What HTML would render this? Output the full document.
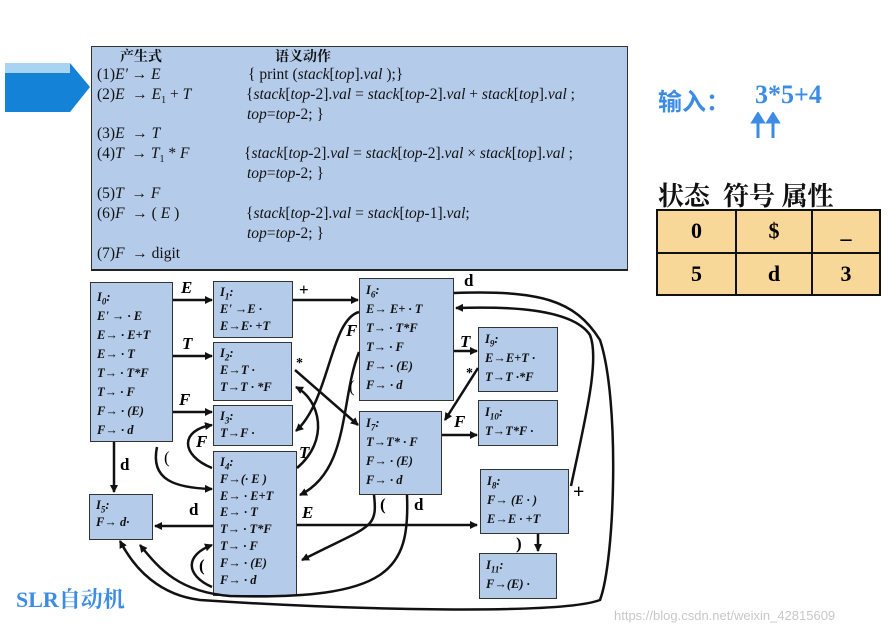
<!DOCTYPE html>
<html><head><meta charset="utf-8"><style>
body{margin:0;width:896px;height:635px;background:#fff;position:relative;overflow:hidden;font-family:"Liberation Serif","Noto Serif CJK SC",serif;}
.a{position:absolute;}
sub{line-height:0;}
.bx{position:absolute;background:#b4cbea;border:1.5px solid #333;box-sizing:border-box;font:bold italic 12.5px/19px "Liberation Serif",serif;padding:2px 6px;color:#111;white-space:nowrap;overflow:hidden;}
.pr{position:absolute;font:15.5px/20px "Liberation Serif","Noto Serif CJK SC",serif;color:#111;white-space:nowrap;}
.lb{position:absolute;font:bold italic 17px "Liberation Serif",serif;}
.lbn{position:absolute;font:bold 17px "Liberation Serif",serif;}
td{border:2px solid #111;text-align:center;font:bold 22px "Liberation Serif",serif;background:#f8d898;}
</style></head><body>
<svg class="a" style="left:0;top:0" width="100" height="120">
<polygon points="5,63 70,63 90,87 70,112 5,112" fill="#1482d6"/>
<rect x="5" y="63" width="65" height="10" fill="#a9d3f2"/>
</svg>
<div class="a" style="left:91px;top:46px;width:537px;height:224px;background:#b4cbea;border:1.5px solid #333;box-sizing:border-box"></div>
<div class="pr" style="left:120px;top:50px;font-weight:bold;font-size:14px;line-height:16px">产生式</div>
<div class="pr" style="left:275px;top:50px;font-weight:bold;font-size:14px;line-height:16px">语义动作</div>
<div class="pr" style="left:97px;top:65px">(1)<i>E'</i> → <i>E</i></div>
<div class="pr" style="left:248px;top:65px">{ print (<i>stack</i>[<i>top</i>].<i>val</i> );}</div>
<div class="pr" style="left:97px;top:85px">(2)<i>E</i> &nbsp;→ <i>E</i><sub style="font-size:10px">1</sub> + <i>T</i></div>
<div class="pr" style="left:246px;top:85px">{<i>stack</i>[<i>top</i>-2].<i>val</i> = <i>stack</i>[<i>top</i>-2].<i>val</i> + <i>stack</i>[<i>top</i>].<i>val</i> ;</div>
<div class="pr" style="left:247px;top:105px"><i>top</i>=<i>top</i>-2; }</div>
<div class="pr" style="left:97px;top:124px">(3)<i>E</i> &nbsp;→ <i>T</i></div>
<div class="pr" style="left:97px;top:144px">(4)<i>T</i> &nbsp;→ <i>T</i><sub style="font-size:10px">1</sub> * <i>F</i></div>
<div class="pr" style="left:244px;top:144px">{<i>stack</i>[<i>top</i>-2].<i>val</i> = <i>stack</i>[<i>top</i>-2].<i>val</i> × <i>stack</i>[<i>top</i>].<i>val</i> ;</div>
<div class="pr" style="left:247px;top:164px"><i>top</i>=<i>top</i>-2; }</div>
<div class="pr" style="left:97px;top:184px">(5)<i>T</i> &nbsp;→ <i>F</i></div>
<div class="pr" style="left:97px;top:204px">(6)<i>F</i> &nbsp;→ ( <i>E</i> )</div>
<div class="pr" style="left:246px;top:204px">{<i>stack</i>[<i>top</i>-2].<i>val</i> = <i>stack</i>[<i>top</i>-1].<i>val</i>;</div>
<div class="pr" style="left:247px;top:224px"><i>top</i>=<i>top</i>-2; }</div>
<div class="pr" style="left:97px;top:244px">(7)<i>F</i> &nbsp;→ digit</div>

<div class="a" style="left:658px;top:82px;color:#3c8ce6;font:bold 24px 'Liberation Sans','Noto Sans CJK SC',sans-serif">输入：</div>
<div class="a" style="left:755px;top:80px;color:#3c8ce6;font:bold 26px 'Liberation Serif',serif">3*5+4</div>
<svg class="a" style="left:750px;top:112px" width="40" height="28"><g stroke="#3c8ce6" stroke-width="3" fill="#3c8ce6"><line x1="8" y1="26" x2="8" y2="8"/><line x1="23" y1="26" x2="23" y2="8"/><polygon points="3,10 8,2 13,10"/><polygon points="18,10 23,2 28,10"/></g></svg>
<div class="a" style="left:658px;top:180px;font:bold 26px 'Noto Serif CJK SC',serif;line-height:30px;color:#111;white-space:nowrap">状态 &nbsp;符号 属性</div>
<table class="a" style="left:656px;top:209px;border-collapse:collapse;width:225px;height:87px"><tr><td style="width:75px">0</td><td style="width:72px">$</td><td>_</td></tr><tr><td>5</td><td>d</td><td>3</td></tr></table>

<div class="a" style="left:91px;top:269px;width:537px;height:2px;background:#222"></div>

<div class="bx" style="left:90px;top:282px;width:83px;height:160px;padding-top:5px">I<sub style="font-size:9px">0</sub>:<br>E' → · E<br>E→ · E+T<br>E→ · T<br>T→ · T*F<br>T→ · F<br>F→ · (E)<br>F→ · d</div>
<div class="bx" style="left:213px;top:281px;width:80px;height:57px;line-height:17px">I<sub style="font-size:9px">1</sub>:<br>E' →E ·<br>E→E· +T</div>
<div class="bx" style="left:213px;top:342px;width:79px;height:59px;line-height:17px">I<sub style="font-size:9px">2</sub>:<br>E→T ·<br>T→T · *F</div>
<div class="bx" style="left:213px;top:405px;width:80px;height:41px;line-height:17px">I<sub style="font-size:9px">3</sub>:<br>T→F ·</div>
<div class="bx" style="left:213px;top:451px;width:84px;height:145px;line-height:16.8px">I<sub style="font-size:9px">4</sub>:<br>F→(· E )<br>E→ · E+T<br>E→ · T<br>T→ · T*F<br>T→ · F<br>F→ · (E)<br>F→ · d</div>
<div class="bx" style="left:89px;top:494px;width:64px;height:46px;line-height:17px">I<sub style="font-size:9px">5</sub>:<br>F→ d·</div>
<div class="bx" style="left:359px;top:278px;width:95px;height:123px">I<sub style="font-size:9px">6</sub>:<br>E→ E+ · T<br>T→ · T*F<br>T→ · F<br>F→ · (E)<br>F→ · d</div>
<div class="bx" style="left:359px;top:411px;width:83px;height:84px">I<sub style="font-size:9px">7</sub>:<br>T→T* · F<br>F→ · (E)<br>F→ · d</div>
<div class="bx" style="left:478px;top:327px;width:80px;height:65px">I<sub style="font-size:9px">9</sub>:<br>E→E+T ·<br>T→T ·*F</div>
<div class="bx" style="left:478px;top:400px;width:80px;height:46px">I<sub style="font-size:9px">10</sub>:<br>T→T*F ·</div>
<div class="bx" style="left:480px;top:469px;width:89px;height:65px">I<sub style="font-size:9px">8</sub>:<br>F→ (E · )<br>E→E · +T</div>
<div class="bx" style="left:479px;top:553px;width:78px;height:46px">I<sub style="font-size:9px">11</sub>:<br>F→(E) ·</div>

<svg class="a" style="left:0;top:0" width="896" height="635">
<defs><marker id="m" markerWidth="8" markerHeight="8" refX="7" refY="4" orient="auto" markerUnits="userSpaceOnUse"><path d="M0,0 L8,4 L0,8 z" fill="#111"/></marker></defs>
<g stroke="#111" stroke-width="2.5" fill="none" marker-end="url(#m)">
<line x1="173" y1="300" x2="212" y2="300"/>
<line x1="173" y1="356" x2="212" y2="356"/>
<line x1="173" y1="412" x2="212" y2="412"/>
<line x1="114" y1="442" x2="114" y2="492"/>
<path d="M157,447 C150,480 175,488 212,489"/>
<line x1="293" y1="300" x2="358" y2="300"/>
<line x1="454" y1="351" x2="477" y2="351"/>
<path d="M295,370 L358,425"/>
<path d="M478,368 L445,420"/>
<line x1="442" y1="435" x2="477" y2="435"/>
<path d="M359,312 C330,320 330,400 296,431"/>
<path d="M359,352 C340,400 350,470 300,495"/>
<path d="M297,468 C330,440 320,400 296,387"/>
<path d="M212,468 C180,455 180,430 212,425"/>
<path d="M212,587 C185,575 185,555 212,545"/>
<line x1="213" y1="526" x2="155" y2="526"/>
<line x1="297" y1="525" x2="477" y2="525"/>
<path d="M374,495 C378,530 370,525 302,560"/>
<path d="M407,495 C410,570 390,600 230,596 C180,592 160,570 140,545"/>
<path d="M454,293 C540,290 575,300 600,340 C620,400 615,560 600,600 C560,615 350,610 200,600 C160,595 135,570 120,541"/>
<path d="M571,486 C585,420 600,360 590,335 C570,305 490,307 456,308"/>
<line x1="538" y1="534" x2="538" y2="551"/>
</g>
</svg>
<div class="lb" style="left:181px;top:278px">E</div>
<div class="lb" style="left:182px;top:334px">T</div>
<div class="lb" style="left:179px;top:390px">F</div>
<div class="lbn" style="left:120px;top:455px">d</div>
<div class="lbn" style="left:164px;top:448px;font-weight:normal">(</div>
<div class="lbn" style="left:299px;top:280px">+</div>
<div class="lb" style="left:460px;top:332px">T</div>
<div class="lbn" style="left:296px;top:356px;font-size:14px">*</div>
<div class="lbn" style="left:466px;top:366px;font-size:14px">*</div>
<div class="lb" style="left:454px;top:412px">F</div>
<div class="lb" style="left:346px;top:321px">F</div>
<div class="lbn" style="left:349px;top:377px;font-weight:normal">(</div>
<div class="lb" style="left:299px;top:443px">T</div>
<div class="lb" style="left:196px;top:432px">F</div>
<div class="lbn" style="left:199px;top:556px">(</div>
<div class="lbn" style="left:189px;top:500px">d</div>
<div class="lb" style="left:302px;top:503px">E</div>
<div class="lbn" style="left:380px;top:495px">(</div>
<div class="lbn" style="left:414px;top:495px">d</div>
<div class="lbn" style="left:464px;top:271px">d</div>
<div class="lbn" style="left:573px;top:481px;font-size:20px">+</div>
<div class="lbn" style="left:516px;top:534px">)</div>
<div class="a" style="left:16px;top:583px;color:#3c8ce6;font:bold 22px 'Liberation Serif','Noto Serif CJK SC',serif;white-space:nowrap">SLR自动机</div>
<div class="a" style="left:614px;top:608px;color:#c8c8c8;font:13px 'Liberation Sans',sans-serif;white-space:nowrap">https://blog.csdn.net/weixin_42815609</div>
</body></html>
